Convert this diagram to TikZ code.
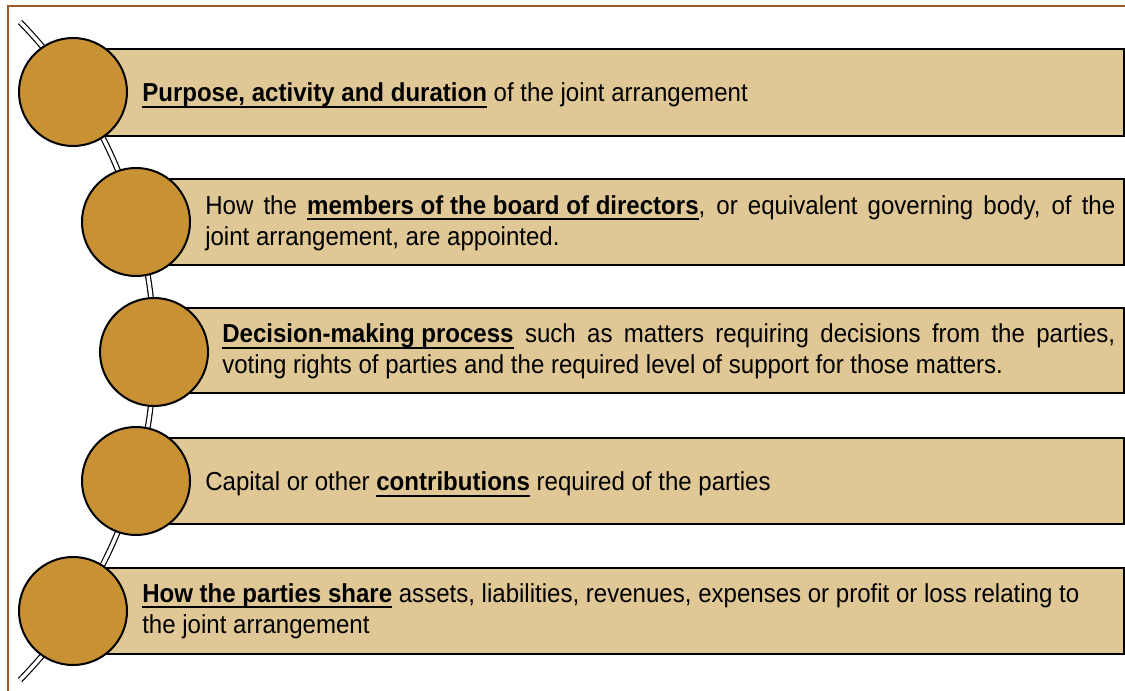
\documentclass[tikz,border=0pt]{standalone}
\usepackage{fontspec}
\setmainfont[FakeStretch=0.925]{Liberation Sans}
\newcommand\ulb[1]{\setbox0\hbox{\bfseries #1}\rlap{\rule[-4.6pt]{\wd0}{1.7pt}}\box0\relax}
\definecolor{circfill}{RGB}{200,146,52}
\definecolor{boxfill}{RGB}{224,200,150}
\definecolor{frame}{RGB}{160,90,40}
\begin{document}
\begin{tikzpicture}[x=0.75pt,y=-0.75pt,
  circ/.style={circle,draw=black,line width=1.5pt,fill=circfill,minimum size=81pt,inner sep=0pt},
  itembox/.style={rectangle,draw=black,line width=1.7pt,fill=boxfill,anchor=west,inner sep=0pt},
  txt/.style={anchor=west,inner sep=0pt,align=left,font=\fontsize{19.5}{23.25}\selectfont},
  rope/.style={draw=black,line width=0.9pt,double=white,double distance=2.6pt}]
\useasboundingbox (0,0) rectangle (1125,691);
% frame
\draw[frame,line width=1.2pt] (8,691) -- (8,6) -- (1125,6);
% rope
\draw[rope] plot[domain=-44.3:44.3,samples=90,smooth] ({-317+471*cos(\x)},{351+471*sin(\x)});
% boxes
\node[itembox,minimum width=787.5pt,minimum height=65.25pt] (b1) at (73,92.5) {};
\node[itembox,minimum width=740.25pt,minimum height=64.5pt] (b2) at (136,222) {};
\node[itembox,minimum width=726.75pt,minimum height=63.75pt] (b3) at (154,350.5) {};
\node[itembox,minimum width=740.25pt,minimum height=64.5pt] (b4) at (136,481) {};
\node[itembox,minimum width=787.5pt,minimum height=64.5pt] (b5) at (73,611) {};
% circles
\node[circ] (c1) at (73,92) {};
\node[circ] (c2) at (136,222) {};
\node[circ] (c3) at (154,352) {};
\node[circ] (c4) at (136,481) {};
\node[circ] (c5) at (73,611) {};
% texts
\node[txt] (t1) at (142,95.5) {\ulb{Purpose, activity and duration} of the joint arrangement};
\node[txt] (t2) at (205,223) {\makebox[682.5pt][s]{How the \ulb{members of the board of directors}, or equivalent governing body, of the}\\joint arrangement, are appointed.};
\node[txt] (t3) at (222,351.5) {\makebox[669.75pt][s]{\ulb{Decision-making process} such as matters requiring decisions from the parties,}\\voting rights of parties and the required level of support for those matters.};
\node[txt] (t4) at (205,484.5) {Capital or other \ulb{contributions} required of the parties};
\node[txt] (t5) at (142,611) {\ulb{How the parties share} assets, liabilities, revenues, expenses or profit or loss relating to\\the joint arrangement};
\end{tikzpicture}
\end{document}
